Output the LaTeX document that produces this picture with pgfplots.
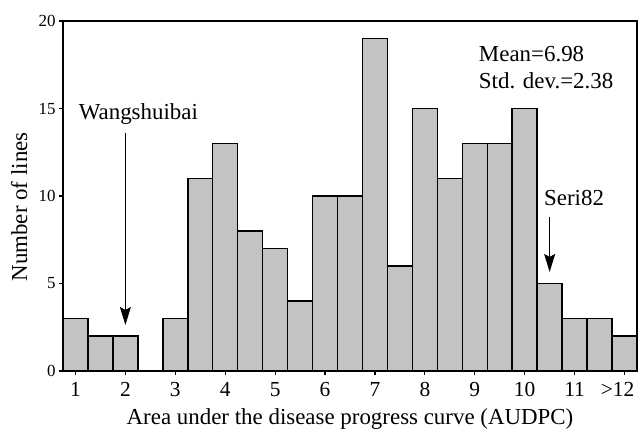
\documentclass[border=0pt]{standalone}
\usepackage{fontspec}
\setmainfont{Liberation Serif}
\usepackage{pgfplots}
\pgfplotsset{compat=1.18}
\usetikzlibrary{arrows.meta}

\begin{document}
\begin{tikzpicture}
  \begin{axis}[
      name=ax,
      scale only axis,
      width=574bp, height=350bp,
      xmin=0.75, xmax=12.25,
      ymin=0, ymax=20,
      xtick={1,2,3,4,5,6,7,8,9,10,11,12},
      xticklabels={1,2,3,4,5,6,7,8,9,10,11,\makebox[0pt]{\hspace*{-14bp}>12}},
      ytick={0,5,10,15,20},
      /pgf/number format/assume math mode=true,
      tick align=outside,
      xtick pos=bottom, ytick pos=left,
      major tick length=4bp,
      every tick/.style={black, line width=1.2bp},
      axis line style={line width=1.3bp},
      xticklabel style={font=\fontsize{21.5}{24}\selectfont, anchor=base, yshift=-21bp},
      yticklabel style={font=\fontsize{17}{20}\selectfont},
      xlabel={Area under the disease progress curve (AUDPC)},
      ylabel={Number of lines},
      xlabel style={font=\fontsize{23}{26}\selectfont, at={(axis description cs:0.5,-0.152)}, anchor=base},
      ylabel style={font=\fontsize{23}{26}\selectfont, at={(axis description cs:-0.0627,0.469)}, anchor=base},
      clip=false,
    ]
    % histogram, bins of width 0.5
    \addplot[ybar, bar width=0.5, bar shift=0pt, draw=black, line width=1.5bp, fill=gray!47]
      coordinates {
        (1,3) (1.5,2) (2,2) (3,3) (3.5,11) (4,13) (4.5,8) (5,7) (5.5,4)
        (6,10) (6.5,10) (7,19) (7.5,6) (8,15) (8.5,11) (9,13) (9.5,13)
        (10,15) (10.5,5) (11,3) (11.5,3) (12,2)
      };
    % annotations
    \draw[line width=1.3bp, -{Stealth[length=18bp,width=11bp,inset=3bp]}] (axis cs:2,13.6) -- (axis cs:2,2.63);
    \draw[line width=1.3bp, -{Stealth[length=18bp,width=11bp,inset=3bp]}] (axis cs:10.5,8.8) -- (axis cs:10.5,5.66);
    \node[font=\fontsize{23}{26}\selectfont, anchor=base, inner sep=0pt] at (axis cs:2.26,14.35) {Wangshuibai};
    \node[font=\fontsize{23}{26}\selectfont, anchor=base, inner sep=0pt] at (axis cs:10.99,9.43) {Seri82};
    \node[font=\fontsize{23}{26}\selectfont, anchor=base west, inner sep=0pt] at (axis cs:9.08,17.71) {Mean=6.98};
    \node[font=\fontsize{23}{26}\selectfont, anchor=base west, inner sep=0pt] at (axis cs:9.08,16.17) {Std. dev.=2.38};
  \end{axis}
  \pgfresetboundingbox
  \path ([shift={(-63bp,-59bp)}]ax.south west) rectangle ([shift={(2bp,21bp)}]ax.north east);
\end{tikzpicture}
\end{document}
